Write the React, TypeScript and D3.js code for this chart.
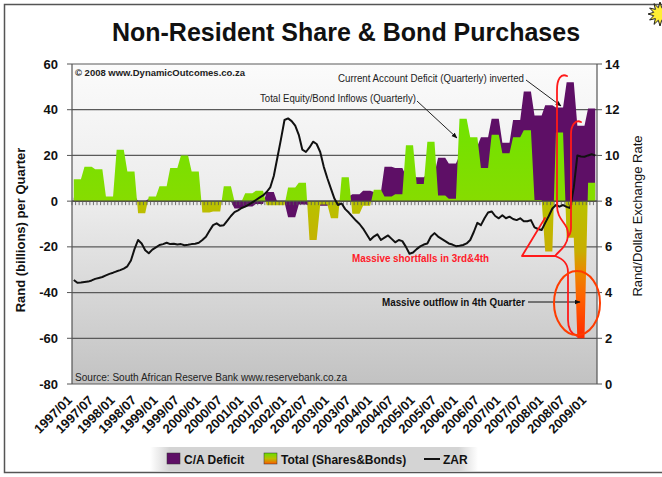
import React from 'react';
import * as d3 from 'd3';

// ---------- DATA ----------
// Monthly categories 1997/01 .. 2009/03
const months: string[] = d3.range(147).map(
  (i) => `${1997 + Math.floor(i / 12)}/${String((i % 12) + 1).padStart(2, '0')}`
);

const tickLabels = [
  '1997/01', '1997/07', '1998/01', '1998/07', '1999/01', '1999/07', '2000/01', '2000/07',
  '2001/01', '2001/07', '2002/01', '2002/07', '2003/01', '2003/07', '2004/01', '2004/07',
  '2005/01', '2005/07', '2006/01', '2006/07', '2007/01', '2007/07', '2008/01', '2008/07', '2009/01',
];

// Quarterly values (1997Q1 .. 2009Q1), R billions
const totalSharesBonds = [
  9.6, 15, 14, 2, 22.5, 13, -5.3, 2, 6.5, 14.5, 20, 13, -5, -4.5, 6.5, 0,
  3.5, 4.5, -1.8, -1.8, 6, 8, -17, -1.5, -7.5, 10.5, -5.5, -2, 5, 2, 3, 24.5,
  7.5, 26, 2.5, 1, 36, 28, 14.5, 29, 21, 28, 31, 0.5, -22, 30, -16, -60, 8,
];

const caDeficitInverted = [
  1.5, 2, 2, 1, 2.5, 2.5, 0, 1, 1, 1, 0.5, 0.5, 0, 0, 0, -3.2,
  -2.3, -1.2, 4, -0.5, -7, -1.5, -2, -2, -1, 2, 3, 4.5, 4, 15, 14.5, 11,
  10.5, 12, 19, 16.5, 20, 24, 28, 36, 25.5, 35.5, 48, 37.5, 42, 41, 52, 33, 40.5,
];

// Monthly Rand/Dollar exchange rate
const zar = [
  4.55, 4.43, 4.44, 4.46, 4.48, 4.53, 4.6, 4.64, 4.68, 4.75, 4.82, 4.87,
  4.93, 4.98, 5.05, 5.15, 5.4, 5.9, 6.3, 6.15, 5.85, 5.72, 5.88, 5.98,
  6.08, 6.12, 6.18, 6.12, 6.14, 6.1, 6.12, 6.07, 6.09, 6.12, 6.14, 6.18,
  6.3, 6.44, 6.7, 6.95, 7.03, 6.92, 6.95, 7.15, 7.35, 7.52, 7.6, 7.7,
  7.76, 7.85, 7.95, 8.05, 8.15, 8.25, 8.4, 8.6, 9.1, 9.9, 10.7, 11.55,
  11.62, 11.5, 11.3, 10.9, 10.25, 10.15, 10.35, 10.6, 10.5, 10.15, 9.5, 9.0,
  8.55, 8.1, 7.83, 7.9, 7.65, 7.5, 7.32, 7.15, 7.0, 6.8, 6.55, 6.3,
  6.45, 6.55, 6.3, 6.4, 6.5, 6.35, 6.2, 6.3, 6.25, 6.0, 5.7, 5.75,
  5.9, 6.02, 6.1, 6.15, 6.45, 6.6, 6.45, 6.35, 6.25, 6.15, 6.1, 6.03,
  6.05, 6.08, 6.15, 6.3, 6.65, 7.05, 6.95, 7.25, 7.5, 7.55, 7.35, 7.25,
  7.38, 7.25, 7.32, 7.22, 7.17, 7.25, 7.12, 7.12, 7.17, 6.85, 6.78, 6.74,
  7.05, 7.35, 7.68, 7.83, 7.76, 7.83, 7.75, 7.7, 8.6, 10.0, 9.95, 9.94,
  10.0, 10.05, 10.0,
];

const leftTicks = [-80, -60, -40, -20, 0, 20, 40, 60];
const rightTicks = [0, 2, 4, 6, 8, 10, 12, 14];

const FONT = "'Liberation Sans', Arial, Helvetica, sans-serif";

export default function App() {
  const W = 662, H = 477;
  const L = 72, R = 597, T = 64, B = 384;

  const x = d3.scaleBand<number>().domain(d3.range(months.length)).range([L, R]);
  const xc = (i: number) => (x(i) as number) + x.bandwidth() / 2;
  const yL = d3.scaleLinear().domain([-80, 60]).range([B, T]);
  const yR = d3.scaleLinear().domain([0, 14]).range([B, T]);

  const area = d3
    .area<[number, number]>()
    .x((d) => d[0])
    .y0(yL(0))
    .y1((d) => yL(d[1]));
  const ptsTotal = months.map((_, i) => [xc(i), totalSharesBonds[Math.floor(i / 3)]] as [number, number]);
  const ptsCA = months.map((_, i) => [xc(i), caDeficitInverted[Math.floor(i / 3)]] as [number, number]);
  const zarLine = d3
    .line<number>()
    .x((_, i) => xc(i))
    .y((d) => yR(d));

  const gStop = (v: number) => (yL(v) - yL(40)) / (yL(-60) - yL(40));

  const star = d3.range(24).map((k) => {
    const a = (k * Math.PI) / 12 - Math.PI / 2;
    const r = k % 2 === 0 ? 12 : 6.5;
    return `${660 + r * Math.cos(a)},${14 + r * Math.sin(a)}`;
  }).join(' ');

  return (
    <svg
      width={W}
      height={H}
      style={{ position: 'absolute', left: 0, top: 0, display: 'block', background: '#fff' }}
      fontFamily={FONT}
    >
      <defs>
        <linearGradient id="plotBg" x1="0" y1="0" x2="0" y2="1">
          <stop offset="0" stopColor="#fbfbfb" />
          <stop offset="0.45" stopColor="#ebebeb" />
          <stop offset="1" stopColor="#c2c2c2" />
        </linearGradient>
        <linearGradient id="totGrad" gradientUnits="userSpaceOnUse" x1="0" x2="0" y1={yL(40)} y2={yL(-60)}>
          <stop offset={gStop(40)} stopColor="#6ee400" />
          <stop offset={gStop(0.5)} stopColor="#86dc00" />
          <stop offset={gStop(-0.5)} stopColor="#b9c200" />
          <stop offset={gStop(-22)} stopColor="#c8ae00" />
          <stop offset={gStop(-30)} stopColor="#e88c00" />
          <stop offset={gStop(-42)} stopColor="#ff6200" />
          <stop offset={gStop(-60)} stopColor="#ff2a00" />
        </linearGradient>
        <linearGradient id="legSw" x1="0" y1="0" x2="0" y2="1">
          <stop offset="0" stopColor="#66e000" />
          <stop offset="0.5" stopColor="#b8c000" />
          <stop offset="1" stopColor="#ff5a00" />
        </linearGradient>
        <linearGradient id="legBg" x1="0" y1="0" x2="1" y2="0">
          <stop offset="0" stopColor="#ffffff" />
          <stop offset="0.06" stopColor="#d4d4d4" />
          <stop offset="0.94" stopColor="#d4d4d4" />
          <stop offset="1" stopColor="#ffffff" />
        </linearGradient>
        <marker id="arr" viewBox="0 0 10 10" refX="9" refY="5" markerWidth="6" markerHeight="6" orient="auto">
          <path d="M0,1 L10,5 L0,9 z" fill="#111" />
        </marker>
      </defs>

      {/* outer frame */}
      <rect x={4.5} y={4.5} width={700} height={468} fill="#fff" stroke="#555" strokeWidth={1.5} />

      {/* title */}
      <text x={346} y={41} textAnchor="middle" fontSize={25} fontWeight="bold" fill="#111">
        Non-Resident Share &amp; Bond Purchases
      </text>

      {/* plot background */}
      <rect x={L} y={T} width={R - L} height={B - T} fill="url(#plotBg)" />

      {/* gridlines */}
      {leftTicks.map((t) => (
        <line key={t} x1={L} x2={R} y1={yL(t)} y2={yL(t)} stroke="#5a5a5a" strokeWidth={1.2} />
      ))}

      {/* series */}
      <path d={area(ptsCA) || ''} fill="#5e0f66" />
      <path d={area(ptsTotal) || ''} fill="url(#totGrad)" />

      {/* category axis on zero line */}
      <line x1={L} x2={R} y1={yL(0)} y2={yL(0)} stroke="#444" strokeWidth={1.3} />
      {months.map((_, i) => (
        <line key={i} x1={x(i) as number} x2={x(i) as number} y1={yL(0)} y2={yL(0) + 4} stroke="#555" strokeWidth={0.8} />
      ))}

      {/* ZAR line */}
      <path d={zarLine(zar) || ''} fill="none" stroke="#111" strokeWidth={2} strokeLinejoin="round" />

      {/* axes */}
      <line x1={L} x2={L} y1={T} y2={B} stroke="#555" strokeWidth={1.2} />
      <line x1={R} x2={R} y1={T} y2={B} stroke="#555" strokeWidth={1.2} />
      {leftTicks.map((t) => (
        <g key={t}>
          <line x1={L - 5} x2={L} y1={yL(t)} y2={yL(t)} stroke="#555" />
          <text x={58} y={yL(t) + 4.5} textAnchor="end" fontSize={13} fontWeight="bold" fill="#111">
            {t}
          </text>
        </g>
      ))}
      {rightTicks.map((t) => (
        <g key={t}>
          <line x1={R} x2={R + 5} y1={yR(t)} y2={yR(t)} stroke="#555" />
          <text x={605} y={yR(t) + 4.5} textAnchor="start" fontSize={13} fontWeight="bold" fill="#111">
            {t}
          </text>
        </g>
      ))}

      {/* x tick labels */}
      {tickLabels.map((lab) => {
        const i = months.indexOf(lab);
        const px = xc(i) - 1;
        const py = 401;
        return (
          <text
            key={lab}
            x={px}
            y={py}
            transform={`rotate(-45 ${px} ${py})`}
            textAnchor="end"
            fontSize={13}
            fontWeight="bold"
            fill="#111"
          >
            {lab}
          </text>
        );
      })}

      {/* axis titles */}
      <text transform="translate(25 230) rotate(-90)" textAnchor="middle" fontSize={13} fontWeight="bold" fill="#111">
        Rand (billions) per Quarter
      </text>
      <text transform="translate(642 216) rotate(-90)" textAnchor="middle" fontSize={13} fill="#111">
        Rand/Dollar Exchange Rate
      </text>

      {/* annotations */}
      <text x={75} y={75.5} fontSize={9.5} fontWeight="bold" fill="#222" textLength={170} lengthAdjust="spacingAndGlyphs">
        © 2008 www.DynamicOutcomes.co.za
      </text>
      <text x={338} y={81.5} fontSize={10} fill="#222" textLength={186} lengthAdjust="spacingAndGlyphs">
        Current Account Deficit (Quarterly) inverted
      </text>
      <line x1={526} y1={80} x2={561} y2={106} stroke="#222" strokeWidth={1} markerEnd="url(#arr)" />
      <text x={260} y={102} fontSize={10} fill="#222" textLength={156} lengthAdjust="spacingAndGlyphs">
        Total Equity/Bond Inflows (Quarterly)
      </text>
      <line x1={417} y1={101} x2={457} y2={138} stroke="#222" strokeWidth={1} markerEnd="url(#arr)" />
      <text x={352} y={261.5} fontSize={10} fontWeight="bold" fill="#ff1a2a" textLength={137} lengthAdjust="spacingAndGlyphs">
        Massive shortfalls in 3rd&amp;4th
      </text>
      <text x={382} y={305.5} fontSize={10} fontWeight="bold" fill="#111" textLength={143} lengthAdjust="spacingAndGlyphs">
        Massive outflow in 4th Quarter
      </text>
      <line x1={528} y1={302} x2={580} y2={302} stroke="#111" strokeWidth={1} markerEnd="url(#arr)" />
      <text x={75} y={380.5} fontSize={10} fill="#222" textLength={272} lengthAdjust="spacingAndGlyphs">
        Source:  South African Reserve Bank   www.reservebank.co.za
      </text>

      {/* red hand-drawn marks */}
      <g fill="none" stroke="#ff1a1a" strokeWidth={1.8} strokeLinejoin="round" strokeLinecap="round">
        <path d="M567,76 C561,73 557,79 557,90 L557,205 C557,222 569,222 568,236 C567,246 560,250 555,256 C561,258 568,262 568,272 L568,320 C568,330 572,334 577,336" />
        <path d="M581,122 C575,119 571,126 571,134 L571,228 C571,233 569,236 568,236" />
        <path d="M555,256 L522,256 L545,218" />
      </g>
      <ellipse cx={577} cy={303} rx={23} ry={32} fill="none" stroke="#ff3c00" strokeWidth={2} />

      {/* legend */}
      <rect x={150} y={447} width={328} height={24} fill="url(#legBg)" />
      <rect x={167} y={453} width={13} height={11} fill="#5e0f66" stroke="#333" strokeWidth={0.5} />
      <text x={184} y={464} fontSize={12} fontWeight="bold" fill="#111">C/A Deficit</text>
      <rect x={264} y={453} width={13} height={11} fill="url(#legSw)" stroke="#333" strokeWidth={0.5} />
      <text x={281} y={464} fontSize={12} fontWeight="bold" fill="#111">Total (Shares&amp;Bonds)</text>
      <line x1={424} x2={440} y1={459} y2={459} stroke="#111" strokeWidth={2} />
      <text x={443} y={464} fontSize={12} fontWeight="bold" fill="#111">ZAR</text>

      {/* corner starburst */}
      <polygon points={star} fill="#ffee33" stroke="#222" strokeWidth={1} />
    </svg>
  );
}
